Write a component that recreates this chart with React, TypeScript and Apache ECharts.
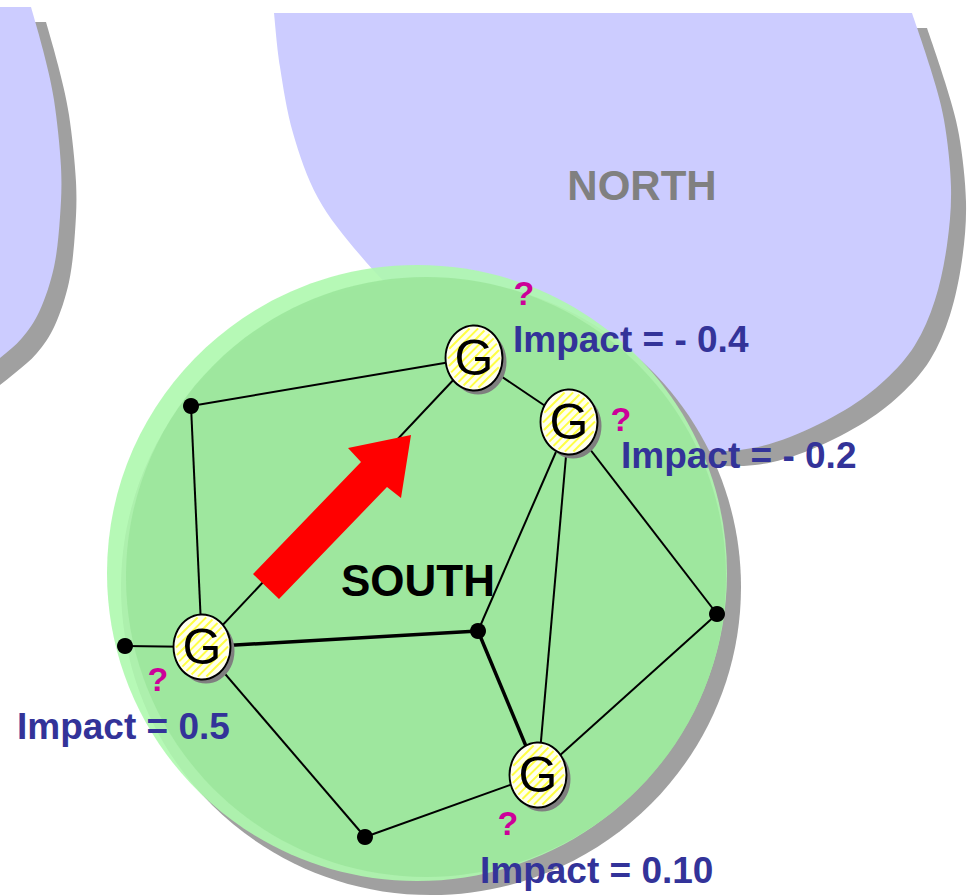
import React, { useEffect, useRef } from "react";
import * as echarts from "echarts";

// ---- data ----
const nodeNames = ["G1", "G2", "G3", "G4", "D1", "D2", "D3", "D4", "D5"];
const nodeX = [474, 569, 202, 538, 191, 125, 478, 717, 365];
const nodeY = [358, 422, 647, 775, 406, 646, 631, 614, 837];
const gNodes = ["G1", "G2", "G3", "G4"];
const dotNodes = ["D1", "D2", "D3", "D4", "D5"];
const edgeFrom = ["D1", "D1", "G1", "G1", "G3", "G3", "G3", "D5", "D3", "D3", "G2", "G2", "D4"];
const edgeTo = ["G1", "G3", "G2", "G3", "D2", "D3", "D5", "G4", "G4", "G2", "G4", "D4", "G4"];
const edgeHeavy = [false, false, false, false, false, true, false, false, true, false, false, false, false];
const impactLabels = ["Impact = - 0.4", "Impact = - 0.2", "Impact = 0.5", "Impact = 0.10"];
const regionLabels = ["NORTH", "SOUTH"];
const nodeLetter = "G";
const questionMark = "?";

// ---- shape outlines ----
const northOutline = [
  [274, 13], [280, 67], [293, 133], [318, 198], [360, 255], [420, 318], [485, 375], [545, 412],
  [610, 436], [680, 449], [740, 450], [790, 437], [845, 410], [885, 380], [915, 345], [935, 300],
  [947, 245], [951, 187], [944, 120], [930, 67], [912, 13],
];
const leftOutline = [
  [31, 7], [43, 50], [54, 100], [61, 167], [60, 217], [54, 267], [40, 310], [22, 338], [0, 358], [-20, 374],
];

function curvePath(pts: number[][], prefix: string) {
  let d = prefix || `M${pts[0][0]},${pts[0][1]}`;
  if (prefix) d += ` L${pts[0][0]},${pts[0][1]}`;
  for (let i = 0; i < pts.length - 1; i++) {
    const p0 = pts[Math.max(i - 1, 0)];
    const p1 = pts[i];
    const p2 = pts[i + 1];
    const p3 = pts[Math.min(i + 2, pts.length - 1)];
    const c1x = p1[0] + (p2[0] - p0[0]) / 6;
    const c1y = p1[1] + (p2[1] - p0[1]) / 6;
    const c2x = p2[0] - (p3[0] - p1[0]) / 6;
    const c2y = p2[1] - (p3[1] - p1[1]) / 6;
    d += ` C${c1x.toFixed(2)},${c1y.toFixed(2)} ${c2x.toFixed(2)},${c2y.toFixed(2)} ${p2[0]},${p2[1]}`;
  }
  return d + " Z";
}

let registered = false;
function registerShapes() {
  if (registered) return;
  registered = true;
  echarts.graphic.registerShape("northShape", echarts.graphic.extendPath(curvePath(northOutline, ""), {}) as any);
  echarts.graphic.registerShape("leftShape", echarts.graphic.extendPath(curvePath(leftOutline, "M-20,7"), {}) as any);
}

const FONT = '"Liberation Sans", Arial, Helvetica, sans-serif';
const G_SIZE = [57, 65];

export default function App() {
  const ref = useRef<HTMLDivElement>(null);
  useEffect(() => {
    if (!ref.current) return;
    registerShapes();
    const chart = echarts.init(ref.current, null, { renderer: "svg" });
    const pos = (n: string) => {
      const i = nodeNames.indexOf(n);
      return [nodeX[i], nodeY[i]];
    };
    const shadow = "#a0a0a0";
    const purple = "#ccccff";
    const textEl = (text: string, x: number, y: number, size: number, color: string, align: string) => ({
      type: "text",
      z: 20,
      silent: true,
      style: {
        text, x, y,
        font: `bold ${size}px ${FONT}`,
        fill: color,
        textAlign: align, align,
        textVerticalAlign: "middle", verticalAlign: "middle",
      },
    });
    const stripeItem = (params: any, api: any) => {
      const c = api.coord([api.value(0), api.value(1)]);
      const a = G_SIZE[0] / 2 - 2.5;
      const b = G_SIZE[1] / 2 - 2.5;
      const step = 6 * Math.SQRT2;
      const cmax = Math.sqrt(a * a + b * b);
      const children: any[] = [];
      const A = 1 / (a * a) + 1 / (b * b);
      for (let k = -Math.ceil(cmax / step); k <= Math.ceil(cmax / step); k++) {
        const cc = k * step;
        const B = (-2 * cc) / (b * b);
        const C = (cc * cc) / (b * b) - 1;
        const disc = B * B - 4 * A * C;
        if (disc <= 0) continue;
        const s = Math.sqrt(disc);
        const x1 = (-B - s) / (2 * A);
        const x2 = (-B + s) / (2 * A);
        children.push({
          type: "line",
          shape: { x1: c[0] + x1, y1: c[1] + cc - x1, x2: c[0] + x2, y2: c[1] + cc - x2 },
          style: { stroke: "#ffff44", lineWidth: 2 },
        });
      }
      return { type: "group", children };
    };
    const option: any = {
      animation: false,
      backgroundColor: "#ffffff",
      grid: { left: 0, right: 0, top: 0, bottom: 0 },
      xAxis: { type: "value", min: 0, max: 972, show: false },
      yAxis: { type: "value", min: 0, max: 895, inverse: true, show: false },
      graphic: {
        elements: [
          { type: "leftShape", x: 15, y: 15, z: 0, silent: true, style: { fill: shadow } },
          { type: "leftShape", x: 0, y: 0, z: 0, silent: true, style: { fill: purple } },
          { type: "northShape", x: 15, y: 15, z: 0, silent: true, style: { fill: shadow } },
          { type: "northShape", x: 0, y: 0, z: 0, silent: true, style: { fill: purple } },
          textEl(regionLabels[0], 642, 185, 42, "#808080", "center"),
          { type: "ellipse", z: 1, silent: true, shape: { cx: 431, cy: 587, rx: 310, ry: 308 }, style: { fill: shadow } },
          { type: "ellipse", z: 1, silent: true, shape: { cx: 417, cy: 573, rx: 310, ry: 308 }, style: { fill: "#aef8ae", opacity: 0.9 } },
          { type: "ellipse", z: 1, silent: true, shape: { cx: 426, cy: 577, rx: 300, ry: 300 }, style: { fill: "#9ce69c", opacity: 0.92 } },
          textEl(regionLabels[1], 418, 580, 44, "#000000", "center"),
          {
            type: "polygon", z: 3, silent: true,
            shape: { points: [[411, 435], [348, 448], [361, 462], [253, 574], [279, 599], [387, 487], [401, 498]] },
            style: { fill: "#ff0000" },
          },
          textEl(questionMark, 524, 293, 34, "#cc0099", "center"),
          textEl(questionMark, 621, 419, 34, "#cc0099", "center"),
          textEl(questionMark, 158, 679, 34, "#cc0099", "center"),
          textEl(questionMark, 508, 823, 34, "#cc0099", "center"),
          textEl(impactLabels[0], 513, 339, 37, "#333399", "left"),
          textEl(impactLabels[1], 621, 455, 37, "#333399", "left"),
          textEl(impactLabels[2], 17, 726, 37, "#333399", "left"),
          textEl(impactLabels[3], 480, 870, 37, "#333399", "left"),
        ],
      },
      series: [
        {
          type: "lines",
          coordinateSystem: "cartesian2d",
          z: 2,
          silent: true,
          lineStyle: { color: "#000000", width: 2, opacity: 1, curveness: 0 },
          data: edgeFrom.map((f, i) => ({
            coords: [pos(f), pos(edgeTo[i])],
            lineStyle: { width: edgeHeavy[i] ? 3.5 : 2 },
          })),
        },
        {
          type: "scatter",
          z: 5,
          silent: true,
          symbol: "circle",
          symbolSize: 16,
          itemStyle: { color: "#000000", opacity: 1 },
          data: dotNodes.map(pos),
        },
        {
          type: "scatter",
          z: 5,
          silent: true,
          symbol: "circle",
          symbolSize: G_SIZE,
          symbolOffset: [4, 4],
          itemStyle: { color: "#7f7f7f", opacity: 1 },
          data: gNodes.map(pos),
        },
        {
          type: "scatter",
          z: 6,
          silent: true,
          symbol: "circle",
          symbolSize: G_SIZE,
          itemStyle: { color: "#ffffee", opacity: 1, borderColor: "#000000", borderWidth: 2 },
          data: gNodes.map(pos),
        },
        {
          type: "custom",
          coordinateSystem: "cartesian2d",
          z: 7,
          silent: true,
          renderItem: stripeItem,
          data: gNodes.map(pos),
        },
        {
          type: "scatter",
          z: 8,
          silent: true,
          symbol: "circle",
          symbolSize: G_SIZE,
          itemStyle: { color: "rgba(0,0,0,0)", opacity: 1 },
          label: {
            show: true,
            position: "inside",
            formatter: nodeLetter,
            fontSize: 50,
            fontFamily: FONT,
            color: "#000000",
          },
          data: gNodes.map(pos),
        },
      ],
    };
    chart.setOption(option);
    return () => chart.dispose();
  }, []);
  return (
    <div
      ref={ref}
      style={{ position: "fixed", left: 0, top: 0, width: 972, height: 895 }}
    />
  );
}
